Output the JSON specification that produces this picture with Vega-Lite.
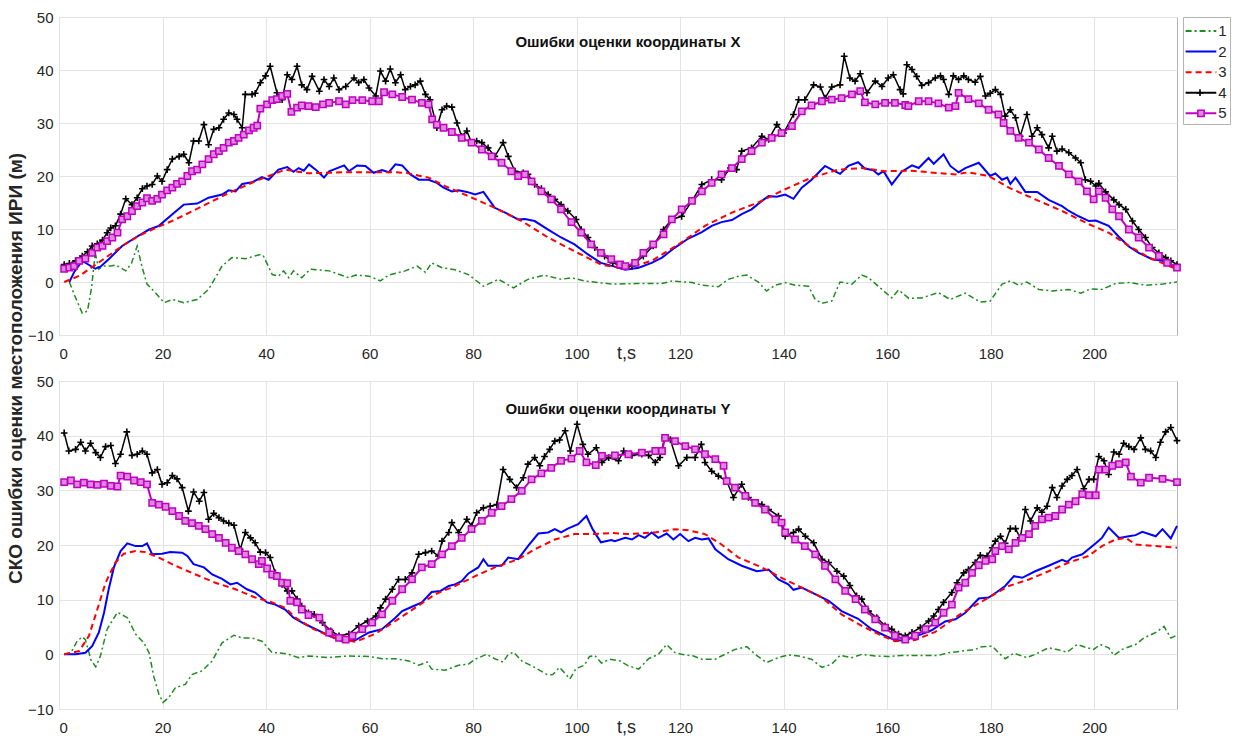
{
"$schema": "https://vega.github.io/schema/vega-lite/v6.json",
"padding": {"left": 5, "top": 9, "right": 0, "bottom": 0},
"background": "white",
"config": {
 "font": "Liberation Sans",
 "view": {"stroke": "#b4b4b4", "strokeWidth": 1},
 "axis": {"labelFont": "Liberation Sans", "labelFontSize": 15, "labelColor": "#262626", "gridColor": "#e3e3e3", "gridWidth": 1, "domain": false, "ticks": false},
 "title": {"font": "Liberation Sans", "fontSize": 15, "fontWeight": "bold", "color": "#111111", "anchor": "middle", "frame": "group", "baseline": "bottom"}
},
"bounds": "flush",
"columns": 2,
"spacing": {"row": 46, "column": 6},
"concat": [
  {"width": 1118, "height": 318,
   "title": {"text": "Ошибки оценки координаты X", "offset": -40, "dx": 10},
   "encoding": {
    "x": {"field": "t", "type": "quantitative", "scale": {"domain": [0, 216], "nice": false, "zero": false},
      "axis": {"values": [0,20,40,60,80,100,120,140,160,180,200], "labelPadding": 11, "title": "t,s", "titleX": 567, "titleY": 23, "titleBaseline": "alphabetic", "titleAlign": "center", "titleFontSize": 18, "titleFontWeight": "normal", "titleColor": "#262626", "titleFont": "Liberation Sans"}},
    "y": {"field": "v", "type": "quantitative", "scale": {"domain": [-10, 50], "nice": false, "zero": false},
      "axis": {"values": [-10,0,10,20,30,40,50], "labelPadding": 6, "title": "СКО ошибки оценки местоположения ИРИ (м)", "titleX": -44, "titleY": 351, "titleAngle": -90, "titleAlign": "center", "titleBaseline": "middle", "titleFontSize": 19, "titleFontWeight": "bold", "titleColor": "#262626", "titleFont": "Liberation Sans"}}
   },
   "layer": [
    {"data": {"name": "x1"}, "mark": {"type": "line", "color": "#1e8c1e", "strokeWidth": 1.5, "strokeDash": [6,3,2,3]}},
    {"data": {"name": "x2"}, "mark": {"type": "line", "color": "#0000ff", "strokeWidth": 2}},
    {"data": {"name": "x3"}, "mark": {"type": "line", "color": "#ff0000", "strokeWidth": 2, "strokeDash": [6,4]}},
    {"data": {"name": "x4"}, "mark": {"type": "line", "color": "#000000", "strokeWidth": 1.5}},
    {"data": {"name": "x4"}, "mark": {"type": "point", "shape": "M-1,0L1,0M0,-1L0,1", "size": 45, "stroke": "#000000", "strokeWidth": 1.6, "filled": false, "opacity": 1}},
    {"data": {"name": "x5"}, "mark": {"type": "line", "color": "#c000c0", "strokeWidth": 2}},
    {"data": {"name": "x5"}, "mark": {"type": "point", "shape": "square", "size": 40, "stroke": "#c000c0", "fill": "#dd88dd", "strokeWidth": 1.5, "filled": true, "opacity": 1}}
   ]
  },
  {"width": 47, "height": 107,
   "view": {"stroke": "#b4b4b4"},
   "data": {"name": "leg"},
   "encoding": {
    "y": {"field": "s", "type": "quantitative", "scale": {"domain": [0.32, 5.52], "reverse": true, "nice": false, "zero": false}, "axis": null}
   },
   "layer": [
    {"mark": {"type": "rule", "strokeWidth": 2},
     "encoding": {
      "x": {"datum": 2.6, "type": "quantitative", "scale": {"domain": [0, 47], "nice": false, "zero": false}, "axis": null},
      "x2": {"datum": 33.3},
      "color": {"field": "s", "type": "ordinal", "scale": {"domain": [1,2,3,4,5], "range": ["#1e8c1e","#0000ff","#ff0000","#000000","#c000c0"]}, "legend": null},
      "strokeDash": {"field": "s", "type": "ordinal", "scale": {"domain": [1,2,3,4,5], "range": [[6,3,2,3],[1,0],[6,4],[1,0],[1,0]]}, "legend": null}
     }},
    {"transform": [{"filter": "datum.s == 4"}], "mark": {"type": "point", "shape": "M-1,0L1,0M0,-1L0,1", "size": 45, "stroke": "#000000", "strokeWidth": 1.6, "filled": false, "opacity": 1},
     "encoding": {"x": {"datum": 17, "type": "quantitative"}}},
    {"transform": [{"filter": "datum.s == 5"}], "mark": {"type": "point", "shape": "square", "size": 40, "stroke": "#c000c0", "fill": "#dd88dd", "strokeWidth": 1.5, "filled": true, "opacity": 1},
     "encoding": {"x": {"datum": 18, "type": "quantitative"}}},
    {"mark": {"type": "text", "align": "left", "baseline": "middle", "fontSize": 15, "color": "#262626"},
     "encoding": {"x": {"datum": 35.3, "type": "quantitative"}, "text": {"field": "s", "type": "nominal"}}}
   ]
  },
 {"width": 1118, "height": 328,
  "title": {"text": "Ошибки оценки координаты Y", "offset": -43, "dx": 0},
  "encoding": {
   "x": {"field": "t", "type": "quantitative", "scale": {"domain": [0, 216], "nice": false, "zero": false},
     "axis": {"values": [0,20,40,60,80,100,120,140,160,180,200], "labelPadding": 11, "title": "t,s", "titleX": 567, "titleY": 23, "titleBaseline": "alphabetic", "titleAlign": "center", "titleFontSize": 18, "titleFontWeight": "normal", "titleColor": "#262626", "titleFont": "Liberation Sans"}},
   "y": {"field": "v", "type": "quantitative", "scale": {"domain": [-10, 50], "nice": false, "zero": false},
     "axis": {"values": [-10,0,10,20,30,40,50], "labelPadding": 6, "title": null}}
  },
  "layer": [
   {"data": {"name": "y1"}, "mark": {"type": "line", "color": "#1e8c1e", "strokeWidth": 1.5, "strokeDash": [6,3,2,3]}},
   {"data": {"name": "y2"}, "mark": {"type": "line", "color": "#0000ff", "strokeWidth": 2}},
   {"data": {"name": "y3"}, "mark": {"type": "line", "color": "#ff0000", "strokeWidth": 2, "strokeDash": [6,4]}},
   {"data": {"name": "y4"}, "mark": {"type": "line", "color": "#000000", "strokeWidth": 1.5}},
   {"data": {"name": "y4"}, "mark": {"type": "point", "shape": "M-1,0L1,0M0,-1L0,1", "size": 45, "stroke": "#000000", "strokeWidth": 1.6, "filled": false, "opacity": 1}},
   {"data": {"name": "y5"}, "mark": {"type": "line", "color": "#c000c0", "strokeWidth": 2}},
   {"data": {"name": "y5"}, "mark": {"type": "point", "shape": "square", "size": 40, "stroke": "#c000c0", "fill": "#dd88dd", "strokeWidth": 1.5, "filled": true, "opacity": 1}}
  ]
 }
],
"datasets": {
 "leg": [{"s":1},{"s":2},{"s":3},{"s":4},{"s":5}],
 "x1": [{"t":2,"v":0},{"t":3,"v":-2.5},{"t":4.5,"v":-5.9},{"t":5.5,"v":-5.5},{"t":6.3,"v":-1},{"t":7,"v":5.5},{"t":7.7,"v":2.4},{"t":8.5,"v":3.0},{"t":10,"v":3.0},{"t":11,"v":3.2},{"t":12.9,"v":2.1},{"t":14,"v":3.5},{"t":15.1,"v":6.8},{"t":16,"v":3},{"t":17,"v":-0.4},{"t":18.6,"v":-2},{"t":20.3,"v":-3.9},{"t":21.9,"v":-3.3},{"t":24.1,"v":-3.9},{"t":26.7,"v":-3.3},{"t":28.9,"v":-1.4},{"t":31.5,"v":3.0},{"t":33.4,"v":4.6},{"t":36,"v":4.4},{"t":38.9,"v":5.2},{"t":39.5,"v":4.9},{"t":41.2,"v":1.4},{"t":42.4,"v":1.1},{"t":43.4,"v":2.1},{"t":44.4,"v":0.8},{"t":45.3,"v":2.1},{"t":46.9,"v":0.8},{"t":48.5,"v":2.4},{"t":52.2,"v":2.1},{"t":56,"v":0.8},{"t":57.3,"v":1.3},{"t":59.9,"v":1.1},{"t":62.1,"v":0.2},{"t":63.7,"v":1.3},{"t":66.9,"v":2.1},{"t":69.2,"v":3.0},{"t":70.8,"v":1.8},{"t":72,"v":3.6},{"t":74,"v":2.7},{"t":76.5,"v":2.3},{"t":79.1,"v":1.4},{"t":82,"v":-0.8},{"t":84.9,"v":0.5},{"t":87.8,"v":-1.1},{"t":90.6,"v":0.5},{"t":93.8,"v":1.3},{"t":97,"v":0.5},{"t":99,"v":0.8},{"t":101.5,"v":0.2},{"t":104.1,"v":-0.1},{"t":107,"v":-0.4},{"t":111.3,"v":-0.3},{"t":116.5,"v":-0.3},{"t":118.4,"v":0.2},{"t":122.3,"v":-0.1},{"t":124.2,"v":-0.6},{"t":127.4,"v":-0.9},{"t":129.3,"v":0.5},{"t":131.3,"v":1.1},{"t":132.9,"v":1.3},{"t":135.1,"v":0},{"t":136.7,"v":-1.7},{"t":138.4,"v":-0.6},{"t":140.3,"v":-0.1},{"t":142.2,"v":-0.6},{"t":144.8,"v":-0.8},{"t":146.1,"v":-3.3},{"t":147.4,"v":-4.0},{"t":149.3,"v":-3.6},{"t":150.9,"v":0},{"t":153.2,"v":-0.4},{"t":155.1,"v":1.3},{"t":156.4,"v":0.8},{"t":159,"v":-1.4},{"t":160.9,"v":-3.0},{"t":162.2,"v":-1.5},{"t":164.2,"v":-3.1},{"t":166.7,"v":-3.0},{"t":169.9,"v":-2.0},{"t":172.2,"v":-3.3},{"t":175.1,"v":-2.1},{"t":178,"v":-3.8},{"t":179.9,"v":-3.6},{"t":182.2,"v":-0.4},{"t":183.8,"v":0.2},{"t":185.4,"v":-0.6},{"t":187,"v":0},{"t":189.3,"v":-1.4},{"t":191.9,"v":-1.7},{"t":195.1,"v":-1.4},{"t":197.4,"v":-2.1},{"t":199.3,"v":-1.3},{"t":201.5,"v":-1.4},{"t":204.1,"v":-0.3},{"t":206.7,"v":-0.1},{"t":209.9,"v":-0.6},{"t":213.2,"v":-0.4},{"t":216,"v":0}],
 "x2": [{"t":2,"v":0},{"t":3,"v":2},{"t":4.5,"v":4.0},{"t":5.5,"v":3.4},{"t":7,"v":2.5},{"t":8,"v":2.9},{"t":9.6,"v":4.3},{"t":12.2,"v":6.8},{"t":14.8,"v":8.4},{"t":17.4,"v":9.9},{"t":19.3,"v":10.6},{"t":21.9,"v":12.8},{"t":24.1,"v":14.6},{"t":26.7,"v":14.8},{"t":28.9,"v":15.9},{"t":31.5,"v":16.5},{"t":32.8,"v":17.3},{"t":34.1,"v":17.1},{"t":35.4,"v":18.5},{"t":37.3,"v":18.8},{"t":39.2,"v":19.8},{"t":40.5,"v":19.3},{"t":42.4,"v":21.2},{"t":44.1,"v":21.7},{"t":45.3,"v":20.8},{"t":46.3,"v":21.5},{"t":47.3,"v":21.0},{"t":48.3,"v":22.2},{"t":49.6,"v":21.2},{"t":51.2,"v":19.7},{"t":52.2,"v":20.9},{"t":55.1,"v":22.0},{"t":56,"v":20.9},{"t":57.6,"v":22.0},{"t":59.2,"v":21.9},{"t":60.8,"v":20.6},{"t":62.4,"v":21.1},{"t":63.7,"v":20.7},{"t":65,"v":22.2},{"t":66.3,"v":22.0},{"t":67.9,"v":20.3},{"t":69.5,"v":19.3},{"t":71.4,"v":19.3},{"t":73,"v":18.7},{"t":74.3,"v":17.8},{"t":75.9,"v":17.1},{"t":77.2,"v":17.3},{"t":78.8,"v":17.0},{"t":80.4,"v":16.5},{"t":82,"v":17.0},{"t":84.2,"v":14.0},{"t":86.2,"v":13.1},{"t":88.7,"v":11.8},{"t":90,"v":11.9},{"t":91.9,"v":11.5},{"t":94.5,"v":9.9},{"t":97,"v":8.4},{"t":99.6,"v":7.1},{"t":102.2,"v":5.2},{"t":104.7,"v":3.6},{"t":107,"v":3.0},{"t":109.4,"v":2.3},{"t":112,"v":2.7},{"t":114.5,"v":3.6},{"t":116.5,"v":4.6},{"t":119,"v":6.5},{"t":121.6,"v":8.2},{"t":124.2,"v":9.4},{"t":126.1,"v":10.6},{"t":128,"v":11.3},{"t":130,"v":11.7},{"t":131.9,"v":12.8},{"t":133.8,"v":13.7},{"t":135.8,"v":15.3},{"t":137.1,"v":16.2},{"t":138.7,"v":16.1},{"t":140.3,"v":16.5},{"t":141.9,"v":15.7},{"t":143.5,"v":17.8},{"t":145.4,"v":19.3},{"t":148,"v":21.9},{"t":149.3,"v":21.2},{"t":150.9,"v":20.4},{"t":152.5,"v":21.9},{"t":154.4,"v":22.6},{"t":155.7,"v":21.4},{"t":157.3,"v":21.1},{"t":158.3,"v":20.3},{"t":159.3,"v":20.9},{"t":160.9,"v":18.4},{"t":162.8,"v":20.8},{"t":164.8,"v":22.0},{"t":166.1,"v":21.5},{"t":168,"v":23.4},{"t":169,"v":22.3},{"t":170.9,"v":24.1},{"t":172.2,"v":21.9},{"t":173.8,"v":20.7},{"t":175.1,"v":21.5},{"t":177.7,"v":22.5},{"t":179.9,"v":20.0},{"t":180.9,"v":20.5},{"t":182.2,"v":19.3},{"t":183.2,"v":19.7},{"t":183.8,"v":18.5},{"t":184.8,"v":19.7},{"t":186.7,"v":17.0},{"t":189,"v":17.0},{"t":191.2,"v":15.5},{"t":193.8,"v":14.3},{"t":195.1,"v":13.4},{"t":197,"v":12.4},{"t":199,"v":11.5},{"t":200.3,"v":11.6},{"t":202.8,"v":10.6},{"t":204.8,"v":8.5},{"t":206.7,"v":6.7},{"t":208.6,"v":5.5},{"t":211.2,"v":4.3},{"t":213.2,"v":4.0},{"t":216,"v":2.7}],
 "x3": [{"t":1,"v":0},{"t":4,"v":1.2},{"t":7,"v":3.2},{"t":9.6,"v":5.0},{"t":12.2,"v":6.8},{"t":15.4,"v":8.7},{"t":18,"v":9.9},{"t":22.5,"v":11.8},{"t":27.7,"v":14.3},{"t":32.8,"v":16.8},{"t":37.9,"v":19.0},{"t":43.7,"v":21.2},{"t":48.2,"v":20.5},{"t":55,"v":20.7},{"t":65,"v":20.7},{"t":67,"v":20.6},{"t":71.4,"v":19.7},{"t":74.6,"v":18.1},{"t":79.1,"v":16.2},{"t":84.2,"v":14.0},{"t":89.4,"v":11.5},{"t":94.5,"v":8.4},{"t":99.6,"v":5.8},{"t":104.7,"v":3.3},{"t":109.4,"v":2.5},{"t":114.5,"v":4.0},{"t":119.7,"v":7.1},{"t":124.8,"v":10.6},{"t":130,"v":13.1},{"t":135.1,"v":15.0},{"t":140.3,"v":17.5},{"t":145.4,"v":19.7},{"t":150.6,"v":21.2},{"t":155.1,"v":21.5},{"t":159.6,"v":20.9},{"t":164.8,"v":21.0},{"t":168,"v":20.7},{"t":173.2,"v":20.3},{"t":175.7,"v":20.7},{"t":179.6,"v":20.0},{"t":183.5,"v":17.8},{"t":188.6,"v":15.6},{"t":193.8,"v":13.4},{"t":199,"v":10.9},{"t":202.8,"v":9.3},{"t":206.7,"v":6.8},{"t":210.6,"v":4.6},{"t":216,"v":2.4}],
 "x4": [{"t":1,"v":3.3},{"t":2,"v":3.5},{"t":3.2,"v":4.0},{"t":4.5,"v":4.9},{"t":5.5,"v":5.7},{"t":6.4,"v":6.8},{"t":7.4,"v":7.2},{"t":8.4,"v":7.9},{"t":9.3,"v":9.3},{"t":10,"v":10.2},{"t":10.9,"v":10.6},{"t":11.9,"v":12.8},{"t":12.9,"v":15.7},{"t":14.1,"v":14.6},{"t":15.1,"v":15.9},{"t":16.1,"v":17.6},{"t":17,"v":18.1},{"t":18,"v":18.4},{"t":19,"v":20.0},{"t":19.9,"v":19.0},{"t":20.9,"v":21.2},{"t":21.9,"v":23.2},{"t":23.2,"v":23.7},{"t":24.1,"v":24.1},{"t":25.1,"v":22.5},{"t":26,"v":26.6},{"t":27,"v":26.6},{"t":28,"v":29.7},{"t":28.9,"v":25.9},{"t":29.9,"v":28.8},{"t":30.9,"v":29.1},{"t":31.8,"v":30.7},{"t":32.8,"v":31.9},{"t":33.8,"v":31.6},{"t":34.4,"v":30.7},{"t":35.4,"v":29.1},{"t":36,"v":35.4},{"t":37.3,"v":35.4},{"t":37.9,"v":35.6},{"t":38.9,"v":37.6},{"t":39.9,"v":38.9},{"t":40.8,"v":40.7},{"t":42.1,"v":35.7},{"t":43.1,"v":34.4},{"t":44.1,"v":39.1},{"t":45,"v":38.2},{"t":46,"v":40.7},{"t":46.9,"v":37.2},{"t":47.9,"v":36.3},{"t":48.9,"v":38.8},{"t":50.3,"v":36.0},{"t":51.2,"v":38.2},{"t":52.2,"v":36.9},{"t":53.1,"v":38.5},{"t":54.1,"v":36.3},{"t":55.4,"v":36.9},{"t":57,"v":38.5},{"t":57.9,"v":37.6},{"t":58.9,"v":38.2},{"t":59.9,"v":36.6},{"t":61.2,"v":35.1},{"t":62.1,"v":39.8},{"t":63.1,"v":37.9},{"t":64,"v":40.2},{"t":65,"v":37.6},{"t":66,"v":39.1},{"t":66.9,"v":36.3},{"t":67.9,"v":36.9},{"t":68.8,"v":37.2},{"t":69.8,"v":37.9},{"t":70.8,"v":35.4},{"t":71.7,"v":34.4},{"t":73,"v":29.1},{"t":74,"v":32.5},{"t":74.9,"v":33.2},{"t":75.9,"v":33.0},{"t":76.9,"v":30.0},{"t":77.8,"v":27.5},{"t":78.8,"v":28.5},{"t":79.7,"v":26.3},{"t":80.7,"v":26.6},{"t":81.7,"v":26.3},{"t":82.9,"v":25.3},{"t":84.2,"v":23.7},{"t":85.8,"v":26.3},{"t":86.8,"v":23.7},{"t":88.1,"v":20.9},{"t":89.7,"v":20.6},{"t":90.6,"v":20.3},{"t":91.9,"v":18.4},{"t":93.2,"v":17.6},{"t":94.5,"v":16.5},{"t":95.8,"v":15.6},{"t":97,"v":14.6},{"t":98.3,"v":13.4},{"t":99.9,"v":11.8},{"t":100.9,"v":9.9},{"t":102.2,"v":8.4},{"t":103.5,"v":6.5},{"t":105.4,"v":4.9},{"t":107,"v":3.6},{"t":108.7,"v":3.0},{"t":110.7,"v":3.0},{"t":112.9,"v":4.9},{"t":114.8,"v":6.8},{"t":116.8,"v":9.9},{"t":118.4,"v":11.8},{"t":120.3,"v":12.4},{"t":122.3,"v":15.3},{"t":124.2,"v":18.4},{"t":126.1,"v":19.3},{"t":128,"v":19.3},{"t":129.7,"v":21.5},{"t":130.9,"v":21.2},{"t":131.9,"v":24.7},{"t":133.8,"v":25.3},{"t":135.8,"v":27.5},{"t":137.1,"v":26.9},{"t":138.7,"v":29.7},{"t":140,"v":28.1},{"t":141.9,"v":31.6},{"t":142.9,"v":34.4},{"t":144.1,"v":34.4},{"t":145.8,"v":37.2},{"t":147.1,"v":36.8},{"t":148,"v":34.7},{"t":149.3,"v":36.8},{"t":150.9,"v":37.2},{"t":151.7,"v":42.6},{"t":152.8,"v":38.5},{"t":153.8,"v":37.9},{"t":154.8,"v":39.3},{"t":156.1,"v":35.7},{"t":157.7,"v":37.9},{"t":159,"v":36.9},{"t":160.2,"v":38.5},{"t":161.2,"v":39.1},{"t":162.5,"v":36.3},{"t":163.1,"v":35.5},{"t":163.8,"v":41.0},{"t":164.8,"v":40.1},{"t":165.7,"v":38.8},{"t":166.7,"v":37.1},{"t":168,"v":37.6},{"t":169.3,"v":38.5},{"t":170.3,"v":38.9},{"t":170.9,"v":38.2},{"t":171.9,"v":35.4},{"t":172.8,"v":38.9},{"t":173.8,"v":38.2},{"t":174.8,"v":38.9},{"t":175.7,"v":38.2},{"t":177,"v":37.7},{"t":178,"v":38.8},{"t":179,"v":35.1},{"t":179.9,"v":35.6},{"t":180.9,"v":36.3},{"t":181.9,"v":35.4},{"t":182.8,"v":31.3},{"t":183.8,"v":32.5},{"t":184.8,"v":31.0},{"t":185.7,"v":27.5},{"t":187,"v":31.6},{"t":188,"v":27.5},{"t":189,"v":29.1},{"t":189.9,"v":27.8},{"t":191.2,"v":25.3},{"t":191.9,"v":27.5},{"t":192.8,"v":24.7},{"t":193.8,"v":25.1},{"t":195.1,"v":24.4},{"t":196.4,"v":23.4},{"t":197.4,"v":22.5},{"t":198.3,"v":19.3},{"t":199.3,"v":19.0},{"t":200.3,"v":18.1},{"t":200.9,"v":18.6},{"t":202.2,"v":17.0},{"t":203.8,"v":15.5},{"t":204.8,"v":14.6},{"t":206.1,"v":13.7},{"t":207.4,"v":11.5},{"t":208.6,"v":9.9},{"t":209.9,"v":8.4},{"t":211.2,"v":6.5},{"t":212.5,"v":5.5},{"t":213.8,"v":4.6},{"t":214.8,"v":4.0},{"t":216,"v":3.3}],
 "x5": [{"t":1,"v":2.5},{"t":2,"v":2.7},{"t":2.9,"v":3.0},{"t":3.9,"v":4.0},{"t":5.1,"v":4.4},{"t":6.4,"v":5.5},{"t":7.4,"v":6.5},{"t":8.4,"v":6.8},{"t":9.3,"v":7.7},{"t":10.3,"v":8.4},{"t":11.3,"v":9.3},{"t":12.2,"v":11.8},{"t":13.2,"v":12.4},{"t":14.1,"v":13.4},{"t":15.1,"v":14.3},{"t":16.1,"v":15.0},{"t":17,"v":15.8},{"t":18,"v":15.3},{"t":19,"v":15.7},{"t":19.9,"v":16.5},{"t":20.9,"v":17.3},{"t":21.9,"v":17.8},{"t":22.8,"v":18.5},{"t":23.8,"v":19.0},{"t":24.8,"v":20.0},{"t":25.7,"v":20.9},{"t":26.7,"v":21.2},{"t":27.7,"v":22.2},{"t":28.9,"v":23.2},{"t":29.9,"v":24.1},{"t":30.9,"v":24.7},{"t":31.8,"v":25.3},{"t":32.8,"v":26.3},{"t":33.8,"v":26.6},{"t":34.7,"v":27.2},{"t":35.7,"v":27.8},{"t":36.7,"v":28.6},{"t":37.6,"v":29.1},{"t":38.3,"v":29.5},{"t":38.9,"v":32.7},{"t":40.2,"v":33.5},{"t":41.2,"v":34.3},{"t":42.1,"v":34.5},{"t":43.1,"v":35.1},{"t":44.1,"v":35.5},{"t":44.9,"v":32.1},{"t":46,"v":32.9},{"t":46.9,"v":33.3},{"t":48.2,"v":33.2},{"t":49.6,"v":33.0},{"t":51,"v":33.5},{"t":52.2,"v":33.8},{"t":54.1,"v":34.1},{"t":55.4,"v":33.5},{"t":56.7,"v":34.3},{"t":58.6,"v":34.3},{"t":60.5,"v":34.1},{"t":61.8,"v":34.1},{"t":62.8,"v":35.8},{"t":64.4,"v":35.4},{"t":66.3,"v":34.9},{"t":68.2,"v":34.4},{"t":70.1,"v":33.8},{"t":71.4,"v":33.5},{"t":72.1,"v":30.7},{"t":73,"v":29.7},{"t":74.3,"v":29.1},{"t":75.9,"v":28.3},{"t":77.8,"v":27.2},{"t":79.7,"v":26.3},{"t":81.7,"v":25.0},{"t":83.6,"v":23.7},{"t":85.5,"v":22.5},{"t":87.4,"v":20.9},{"t":88.7,"v":20.0},{"t":90,"v":20.3},{"t":91.3,"v":19.0},{"t":93.2,"v":17.1},{"t":95.1,"v":15.6},{"t":97,"v":13.7},{"t":99,"v":11.3},{"t":100.9,"v":9.3},{"t":102.8,"v":7.1},{"t":104.7,"v":5.5},{"t":106.7,"v":4.3},{"t":108.4,"v":3.3},{"t":109.4,"v":3.0},{"t":111.3,"v":3.6},{"t":112.9,"v":5.5},{"t":114.8,"v":7.1},{"t":116.8,"v":9.0},{"t":118.4,"v":11.8},{"t":120.3,"v":13.7},{"t":122.3,"v":15.3},{"t":124.2,"v":17.1},{"t":126.1,"v":18.7},{"t":128,"v":20.3},{"t":130,"v":21.5},{"t":131.9,"v":23.2},{"t":133.8,"v":24.7},{"t":135.8,"v":26.3},{"t":137.7,"v":27.2},{"t":139.6,"v":28.1},{"t":141.6,"v":29.4},{"t":143.5,"v":32.2},{"t":145.4,"v":33.3},{"t":147.4,"v":34.1},{"t":149.3,"v":34.4},{"t":151.2,"v":34.7},{"t":153.2,"v":35.4},{"t":154.8,"v":36.0},{"t":155.7,"v":33.9},{"t":157.7,"v":33.5},{"t":159.6,"v":33.8},{"t":161.5,"v":33.8},{"t":163.5,"v":33.4},{"t":164.1,"v":33.2},{"t":166.1,"v":34.1},{"t":168,"v":34.1},{"t":169.9,"v":33.7},{"t":171.9,"v":32.9},{"t":173.2,"v":33.2},{"t":173.8,"v":35.7},{"t":175.7,"v":34.5},{"t":177.7,"v":33.7},{"t":179.6,"v":32.5},{"t":181.5,"v":31.6},{"t":182.5,"v":30.0},{"t":183.8,"v":28.5},{"t":185.4,"v":27.2},{"t":187.4,"v":26.3},{"t":189.3,"v":25.0},{"t":191.2,"v":23.4},{"t":193.2,"v":21.9},{"t":195.1,"v":20.3},{"t":197,"v":19.0},{"t":198.6,"v":17.1},{"t":199.9,"v":15.6},{"t":200.9,"v":17.1},{"t":202.2,"v":15.9},{"t":203.5,"v":13.7},{"t":204.8,"v":12.4},{"t":206.7,"v":9.9},{"t":208.6,"v":8.4},{"t":210.6,"v":6.5},{"t":212.5,"v":4.9},{"t":214.1,"v":3.6},{"t":216,"v":2.7}],
 "y1": [{"t":1,"v":0},{"t":2.3,"v":0.3},{"t":3.5,"v":2.4},{"t":4.5,"v":3.2},{"t":5.1,"v":2.7},{"t":5.8,"v":0.3},{"t":6.1,"v":-0.9},{"t":7.1,"v":-2.3},{"t":8,"v":-0.3},{"t":9.3,"v":4.6},{"t":11.3,"v":7.7},{"t":13.2,"v":6.7},{"t":14.8,"v":3.7},{"t":16.4,"v":2.1},{"t":17.4,"v":0.3},{"t":18.3,"v":-4.0},{"t":19.3,"v":-7.3},{"t":20.1,"v":-8.8},{"t":21.2,"v":-7.9},{"t":22.5,"v":-6.1},{"t":24.4,"v":-5.5},{"t":25.7,"v":-3.7},{"t":27.7,"v":-3.0},{"t":29.6,"v":-1.2},{"t":31.5,"v":2.1},{"t":33.8,"v":3.5},{"t":35.4,"v":3.0},{"t":37.3,"v":3.0},{"t":39.2,"v":2.4},{"t":41.2,"v":0.3},{"t":42.4,"v":0.3},{"t":44.4,"v":0},{"t":46.3,"v":-0.6},{"t":48.2,"v":-0.3},{"t":52,"v":-0.6},{"t":56,"v":-0.3},{"t":59.9,"v":-0.4},{"t":62.4,"v":-0.8},{"t":65,"v":-0.8},{"t":67.6,"v":-1.2},{"t":69.5,"v":-2.0},{"t":71.1,"v":-1.4},{"t":72,"v":-2.7},{"t":74.6,"v":-2.9},{"t":77.2,"v":-2.0},{"t":79.1,"v":-1.8},{"t":80.4,"v":-0.9},{"t":82.6,"v":0},{"t":84.2,"v":-0.8},{"t":85.8,"v":-1.4},{"t":86.8,"v":0},{"t":87.8,"v":0.4},{"t":89.4,"v":-1.2},{"t":91.9,"v":-2.4},{"t":94.5,"v":-3.8},{"t":95.4,"v":-3.7},{"t":96.7,"v":-2.4},{"t":97.7,"v":-3.4},{"t":98.7,"v":-4.5},{"t":99.9,"v":-2.6},{"t":101.5,"v":-2.0},{"t":102.5,"v":-0.4},{"t":103.5,"v":-0.2},{"t":104.8,"v":-1.6},{"t":106.4,"v":-0.9},{"t":108.4,"v":-1.2},{"t":110,"v":-2.1},{"t":112,"v":-2.7},{"t":113.9,"v":-0.8},{"t":115.8,"v":0},{"t":117.4,"v":1.8},{"t":119,"v":0.3},{"t":120.3,"v":0},{"t":122.6,"v":-0.3},{"t":124.2,"v":-0.9},{"t":126.8,"v":-0.9},{"t":128,"v":-0.3},{"t":130.6,"v":0.9},{"t":132.9,"v":1.4},{"t":134.5,"v":0},{"t":136.7,"v":-1.5},{"t":139,"v":-0.6},{"t":140.9,"v":-0.1},{"t":142.9,"v":-0.3},{"t":145.4,"v":-0.9},{"t":147.4,"v":-2.4},{"t":149.3,"v":-1.8},{"t":150.9,"v":-0.2},{"t":153.2,"v":-0.6},{"t":155.1,"v":0},{"t":157.7,"v":-0.3},{"t":160.2,"v":-0.4},{"t":162.8,"v":-0.2},{"t":165.4,"v":-0.2},{"t":169.9,"v":-0.2},{"t":171.9,"v":0.3},{"t":174.5,"v":0.6},{"t":177,"v":0.9},{"t":178.3,"v":1.4},{"t":180.3,"v":1.5},{"t":181.5,"v":0.3},{"t":182.8,"v":-0.8},{"t":184.5,"v":0.2},{"t":187,"v":-0.6},{"t":188.6,"v":0},{"t":191.2,"v":1.2},{"t":193.2,"v":0.8},{"t":194.8,"v":0.4},{"t":196.7,"v":1.8},{"t":198.6,"v":1.2},{"t":199.9,"v":0.9},{"t":201.2,"v":1.8},{"t":202.8,"v":1.2},{"t":203.8,"v":-0.2},{"t":205.4,"v":0.9},{"t":208,"v":1.8},{"t":209.6,"v":3.0},{"t":211.9,"v":4.0},{"t":213.5,"v":5.1},{"t":214.8,"v":3.0},{"t":216,"v":3.5}],
 "y2": [{"t":1,"v":0},{"t":3.2,"v":0},{"t":5.1,"v":0.3},{"t":6.4,"v":1.5},{"t":7.7,"v":4.0},{"t":8.7,"v":7.6},{"t":9.6,"v":11.9},{"t":10.6,"v":15.9},{"t":11.9,"v":18.9},{"t":13.2,"v":20.3},{"t":14.8,"v":19.8},{"t":16.1,"v":19.8},{"t":17,"v":20.3},{"t":18,"v":18.3},{"t":19.9,"v":18.4},{"t":21.5,"v":18.7},{"t":23.8,"v":18.6},{"t":24.8,"v":18.0},{"t":26,"v":16.5},{"t":28,"v":15.9},{"t":29.6,"v":14.6},{"t":31.5,"v":13.8},{"t":33.1,"v":12.8},{"t":34.4,"v":13.1},{"t":36.3,"v":11.9},{"t":37.9,"v":11.3},{"t":40.2,"v":9.5},{"t":41.8,"v":9.1},{"t":43.7,"v":8.2},{"t":45.3,"v":6.7},{"t":47.6,"v":5.5},{"t":49.2,"v":4.8},{"t":52.2,"v":3.4},{"t":54.7,"v":2.4},{"t":57.3,"v":2.6},{"t":59.9,"v":4.0},{"t":62.4,"v":4.6},{"t":65,"v":6.7},{"t":66.3,"v":7.9},{"t":68.2,"v":8.7},{"t":70.1,"v":9.5},{"t":72,"v":11.4},{"t":73.7,"v":11.6},{"t":75.3,"v":12.5},{"t":76.5,"v":12.8},{"t":77.8,"v":13.4},{"t":79.1,"v":14.8},{"t":81,"v":15.9},{"t":82,"v":17.4},{"t":82.9,"v":16.2},{"t":85.5,"v":16.2},{"t":86.8,"v":17.7},{"t":88.7,"v":17.4},{"t":90.6,"v":19.8},{"t":92.6,"v":22.1},{"t":94.5,"v":22.3},{"t":95.8,"v":22.9},{"t":97,"v":22.3},{"t":98.3,"v":23.0},{"t":100.3,"v":23.8},{"t":101.9,"v":25.3},{"t":103.1,"v":22.9},{"t":104.7,"v":20.5},{"t":106.7,"v":20.9},{"t":107.4,"v":20.7},{"t":109.4,"v":21.3},{"t":110.7,"v":21.0},{"t":112,"v":21.8},{"t":113.2,"v":21.3},{"t":114.5,"v":22.3},{"t":115.8,"v":21.3},{"t":117.4,"v":22.1},{"t":118.7,"v":21.0},{"t":120,"v":22.0},{"t":121.6,"v":20.7},{"t":122.9,"v":21.3},{"t":124.2,"v":21.0},{"t":125.5,"v":21.2},{"t":126.8,"v":19.2},{"t":129.3,"v":17.4},{"t":131.9,"v":16.2},{"t":134.8,"v":15.2},{"t":137.1,"v":15.5},{"t":139,"v":13.7},{"t":140.9,"v":12.8},{"t":141.9,"v":11.8},{"t":143.5,"v":12.2},{"t":146.1,"v":11.0},{"t":148.7,"v":9.8},{"t":151.2,"v":7.9},{"t":154.4,"v":6.5},{"t":157,"v":4.6},{"t":159.6,"v":3.4},{"t":161.5,"v":2.6},{"t":163.5,"v":2.5},{"t":165.1,"v":3.2},{"t":166.7,"v":3.7},{"t":168.6,"v":4.4},{"t":171.2,"v":6.0},{"t":173.2,"v":6.4},{"t":175.1,"v":7.6},{"t":177.7,"v":10.2},{"t":179.6,"v":10.4},{"t":181.2,"v":11.4},{"t":182.8,"v":12.5},{"t":184.5,"v":14.3},{"t":186.1,"v":14.0},{"t":188.6,"v":15.2},{"t":191.2,"v":16.2},{"t":193.8,"v":17.3},{"t":194.8,"v":16.9},{"t":195.7,"v":17.7},{"t":197.7,"v":18.3},{"t":200.3,"v":20.3},{"t":201.5,"v":21.3},{"t":202.8,"v":23.2},{"t":204.8,"v":21.3},{"t":206.7,"v":21.6},{"t":208,"v":21.8},{"t":209.3,"v":22.4},{"t":211.9,"v":21.6},{"t":213.2,"v":22.9},{"t":214.8,"v":21.2},{"t":216,"v":23.5}],
 "y3": [{"t":1,"v":0},{"t":3.9,"v":0.6},{"t":5.8,"v":3.4},{"t":7.4,"v":8.2},{"t":9,"v":13.1},{"t":10.9,"v":16.8},{"t":12.5,"v":18.4},{"t":14.8,"v":18.9},{"t":16.7,"v":18.7},{"t":19.3,"v":17.7},{"t":22.5,"v":16.2},{"t":26.4,"v":14.6},{"t":30.2,"v":13.1},{"t":34.1,"v":11.9},{"t":37.9,"v":10.4},{"t":41.2,"v":9.5},{"t":43.7,"v":8.5},{"t":45.7,"v":6.7},{"t":49.2,"v":4.6},{"t":53.5,"v":2.9},{"t":57.3,"v":2.3},{"t":61.2,"v":3.8},{"t":65,"v":6.1},{"t":68.8,"v":8.5},{"t":72.7,"v":11.0},{"t":76.5,"v":12.5},{"t":80.4,"v":14.3},{"t":84.2,"v":15.9},{"t":88.7,"v":17.4},{"t":91.9,"v":19.2},{"t":95.8,"v":21.0},{"t":99.6,"v":22.0},{"t":103.5,"v":22.0},{"t":107,"v":22.2},{"t":110,"v":22.0},{"t":115.2,"v":22.3},{"t":119,"v":22.9},{"t":121.6,"v":22.7},{"t":124.8,"v":22.0},{"t":128,"v":20.1},{"t":131.3,"v":17.7},{"t":135.8,"v":15.9},{"t":139.6,"v":14.0},{"t":143.5,"v":12.2},{"t":147.4,"v":10.4},{"t":151.2,"v":7.3},{"t":155.1,"v":5.2},{"t":159,"v":3.4},{"t":161.5,"v":2.4},{"t":165.4,"v":2.6},{"t":169.3,"v":4.1},{"t":174.5,"v":7.6},{"t":179.6,"v":10.4},{"t":183.5,"v":12.5},{"t":187.4,"v":13.7},{"t":191.2,"v":15.2},{"t":195.1,"v":16.8},{"t":198.9,"v":18.0},{"t":201.5,"v":19.8},{"t":204.1,"v":21.0},{"t":206.1,"v":21.3},{"t":208,"v":20.1},{"t":211.9,"v":19.8},{"t":216,"v":19.5}],
 "y4": [{"t":1,"v":40.5},{"t":1.9,"v":37.2},{"t":3.2,"v":37.5},{"t":4.2,"v":38.8},{"t":5.1,"v":37.2},{"t":6.1,"v":38.6},{"t":7.1,"v":36.9},{"t":8,"v":36.0},{"t":9,"v":38.0},{"t":10,"v":38.2},{"t":10.9,"v":34.9},{"t":11.9,"v":36.6},{"t":13.1,"v":40.7},{"t":14.1,"v":36.4},{"t":15.1,"v":36.6},{"t":16.1,"v":37.2},{"t":17,"v":36.6},{"t":18,"v":33.2},{"t":19,"v":33.8},{"t":19.9,"v":31.1},{"t":20.9,"v":31.4},{"t":21.9,"v":32.7},{"t":22.8,"v":32.1},{"t":23.8,"v":30.5},{"t":25,"v":26.2},{"t":26,"v":29.7},{"t":27.1,"v":28.0},{"t":28,"v":29.6},{"t":28.9,"v":24.7},{"t":29.9,"v":25.8},{"t":30.9,"v":25.0},{"t":31.8,"v":24.4},{"t":32.8,"v":24.0},{"t":33.8,"v":23.6},{"t":35,"v":19.2},{"t":36,"v":22.3},{"t":37,"v":21.3},{"t":37.9,"v":20.4},{"t":38.9,"v":18.7},{"t":39.9,"v":18.6},{"t":40.8,"v":17.7},{"t":41.8,"v":14.9},{"t":43.1,"v":12.8},{"t":44.1,"v":11.6},{"t":45,"v":11.6},{"t":46,"v":10.1},{"t":46.9,"v":8.8},{"t":48.2,"v":7.6},{"t":49.3,"v":7.3},{"t":50.9,"v":5.8},{"t":52.5,"v":4.3},{"t":54.1,"v":3.4},{"t":56,"v":3.7},{"t":57.9,"v":5.2},{"t":59.6,"v":6.1},{"t":61.2,"v":7.0},{"t":62.1,"v":8.5},{"t":63.1,"v":10.1},{"t":64.4,"v":11.9},{"t":65.6,"v":13.7},{"t":66.9,"v":13.7},{"t":68.2,"v":14.9},{"t":69.5,"v":18.3},{"t":70.8,"v":18.6},{"t":72,"v":18.9},{"t":73.3,"v":18.0},{"t":74,"v":20.7},{"t":75.3,"v":22.3},{"t":75.9,"v":24.1},{"t":77.2,"v":22.3},{"t":78.8,"v":24.7},{"t":79.7,"v":23.5},{"t":80.7,"v":25.9},{"t":82,"v":26.8},{"t":83.3,"v":27.1},{"t":84.6,"v":27.4},{"t":85.8,"v":33.8},{"t":87.1,"v":32.0},{"t":88.4,"v":30.5},{"t":89.7,"v":32.3},{"t":90.6,"v":34.8},{"t":91.9,"v":36.0},{"t":92.9,"v":34.5},{"t":93.8,"v":36.2},{"t":94.8,"v":37.5},{"t":95.8,"v":39.0},{"t":96.7,"v":39.2},{"t":97.8,"v":40.9},{"t":98.8,"v":37.2},{"t":100.1,"v":42.1},{"t":101.2,"v":38.4},{"t":102.2,"v":36.6},{"t":103.8,"v":37.8},{"t":104.9,"v":35.1},{"t":106.2,"v":36.0},{"t":108.1,"v":35.4},{"t":109.1,"v":37.2},{"t":110.7,"v":36.4},{"t":112.6,"v":36.6},{"t":113.9,"v":36.4},{"t":115.2,"v":35.1},{"t":116.1,"v":36.0},{"t":117,"v":39.6},{"t":118.1,"v":39.3},{"t":119.7,"v":34.5},{"t":121.3,"v":36.0},{"t":122.9,"v":36.0},{"t":124.1,"v":38.4},{"t":124.8,"v":35.1},{"t":126.1,"v":33.5},{"t":127.4,"v":32.6},{"t":129,"v":31.7},{"t":130.3,"v":28.7},{"t":131.9,"v":31.1},{"t":133.2,"v":28.7},{"t":134.5,"v":27.7},{"t":135.8,"v":27.4},{"t":137.1,"v":26.5},{"t":139,"v":25.3},{"t":140.3,"v":21.6},{"t":141.9,"v":22.3},{"t":142.9,"v":22.9},{"t":144.2,"v":21.6},{"t":145.8,"v":20.4},{"t":147.4,"v":17.4},{"t":148.7,"v":16.8},{"t":150.3,"v":15.2},{"t":151.6,"v":14.3},{"t":152.8,"v":12.6},{"t":154.1,"v":10.7},{"t":155.1,"v":10.1},{"t":156.4,"v":7.9},{"t":158,"v":6.7},{"t":159.6,"v":5.2},{"t":160.9,"v":4.6},{"t":162.2,"v":3.7},{"t":163.5,"v":3.4},{"t":164.8,"v":4.0},{"t":166.4,"v":4.9},{"t":168,"v":6.1},{"t":169,"v":7.0},{"t":169.9,"v":8.2},{"t":170.9,"v":9.5},{"t":172.5,"v":11.3},{"t":173.5,"v":13.1},{"t":174.8,"v":14.9},{"t":175.7,"v":15.5},{"t":177,"v":16.8},{"t":178,"v":18.1},{"t":179.3,"v":18.0},{"t":180.3,"v":19.5},{"t":180.9,"v":20.7},{"t":181.9,"v":21.6},{"t":182.8,"v":20.3},{"t":183.8,"v":23.0},{"t":184.8,"v":23.0},{"t":185.7,"v":21.3},{"t":186.7,"v":26.5},{"t":187.7,"v":24.4},{"t":189,"v":26.8},{"t":189.9,"v":26.0},{"t":190.9,"v":27.1},{"t":191.9,"v":30.5},{"t":192.8,"v":28.7},{"t":193.8,"v":30.8},{"t":194.8,"v":32.0},{"t":195.7,"v":32.7},{"t":196.7,"v":33.8},{"t":198,"v":30.3},{"t":199,"v":32.0},{"t":199.9,"v":32.0},{"t":200.9,"v":36.2},{"t":201.9,"v":35.4},{"t":202.8,"v":32.9},{"t":203.8,"v":37.0},{"t":204.8,"v":36.6},{"t":205.7,"v":38.6},{"t":206.7,"v":38.0},{"t":207.7,"v":37.5},{"t":209,"v":39.6},{"t":209.9,"v":37.5},{"t":210.9,"v":37.2},{"t":211.9,"v":36.0},{"t":212.8,"v":38.8},{"t":213.8,"v":40.7},{"t":214.8,"v":41.5},{"t":216,"v":39.1}],
 "y5": [{"t":1,"v":31.5},{"t":2.3,"v":31.8},{"t":3.5,"v":31.1},{"t":4.8,"v":31.4},{"t":6.1,"v":31.1},{"t":7.4,"v":31.0},{"t":8.7,"v":31.2},{"t":10,"v":30.8},{"t":11.3,"v":30.7},{"t":11.9,"v":32.7},{"t":13.2,"v":32.5},{"t":14.5,"v":31.8},{"t":15.8,"v":31.5},{"t":17,"v":31.1},{"t":18,"v":27.7},{"t":19.3,"v":27.4},{"t":20.6,"v":27.0},{"t":21.9,"v":26.2},{"t":23.2,"v":25.3},{"t":24.4,"v":24.4},{"t":25.7,"v":24.0},{"t":27,"v":23.5},{"t":28.3,"v":22.9},{"t":29.6,"v":22.0},{"t":30.9,"v":21.3},{"t":32.2,"v":20.4},{"t":33.4,"v":19.5},{"t":34.7,"v":18.9},{"t":36,"v":18.3},{"t":37.3,"v":17.4},{"t":38.6,"v":16.5},{"t":39.2,"v":17.1},{"t":40.2,"v":15.7},{"t":41.2,"v":14.6},{"t":42.1,"v":14.3},{"t":43.1,"v":13.1},{"t":44.1,"v":13.0},{"t":44.7,"v":9.8},{"t":46,"v":9.5},{"t":46.9,"v":8.2},{"t":48.2,"v":7.2},{"t":50.3,"v":6.7},{"t":52.2,"v":4.0},{"t":54.1,"v":3.0},{"t":55.4,"v":2.7},{"t":56.7,"v":3.4},{"t":58.6,"v":4.6},{"t":60.5,"v":5.8},{"t":62.4,"v":7.3},{"t":64.4,"v":9.8},{"t":66.3,"v":11.9},{"t":68.2,"v":13.7},{"t":70.1,"v":15.9},{"t":72,"v":16.5},{"t":74,"v":18.3},{"t":75.9,"v":19.8},{"t":77.8,"v":21.3},{"t":79.7,"v":22.9},{"t":81.7,"v":24.4},{"t":83.6,"v":25.9},{"t":85.5,"v":27.1},{"t":87.4,"v":28.4},{"t":89.4,"v":29.9},{"t":91.3,"v":32.0},{"t":93.2,"v":33.1},{"t":95.1,"v":34.1},{"t":97,"v":35.4},{"t":99,"v":35.8},{"t":100.6,"v":37.2},{"t":101.9,"v":35.1},{"t":103.7,"v":34.6},{"t":104.9,"v":36.3},{"t":107.4,"v":36.4},{"t":110,"v":36.6},{"t":112.6,"v":36.9},{"t":115.2,"v":37.2},{"t":116.5,"v":37.2},{"t":117.1,"v":39.6},{"t":119,"v":39.0},{"t":121,"v":38.1},{"t":122.9,"v":37.5},{"t":124.8,"v":36.6},{"t":126.8,"v":35.7},{"t":128.4,"v":34.5},{"t":129,"v":31.7},{"t":130.6,"v":30.5},{"t":132.6,"v":29.0},{"t":134.5,"v":27.7},{"t":136.4,"v":26.5},{"t":138.4,"v":24.7},{"t":139.6,"v":24.1},{"t":140.3,"v":22.3},{"t":142.2,"v":21.0},{"t":144.1,"v":19.8},{"t":146.1,"v":18.3},{"t":148,"v":16.2},{"t":150,"v":13.7},{"t":151.9,"v":11.6},{"t":153.9,"v":10.1},{"t":155.7,"v":8.2},{"t":157.7,"v":6.4},{"t":159.6,"v":4.9},{"t":161.5,"v":3.4},{"t":163.5,"v":2.7},{"t":165.4,"v":3.4},{"t":167.4,"v":4.6},{"t":169.3,"v":5.8},{"t":170.9,"v":7.6},{"t":172.5,"v":9.1},{"t":173.8,"v":12.2},{"t":175.1,"v":13.1},{"t":176.4,"v":14.9},{"t":177.7,"v":16.3},{"t":179,"v":17.1},{"t":180.3,"v":17.4},{"t":180.9,"v":18.9},{"t":182.2,"v":19.8},{"t":183.5,"v":19.2},{"t":184.8,"v":20.4},{"t":186.1,"v":21.3},{"t":187.4,"v":22.0},{"t":188.6,"v":23.5},{"t":189.9,"v":24.7},{"t":191.2,"v":25.0},{"t":192.5,"v":25.3},{"t":193.8,"v":26.5},{"t":195.1,"v":27.4},{"t":196.4,"v":28.0},{"t":197.7,"v":29.3},{"t":199,"v":29.1},{"t":200.3,"v":29.1},{"t":200.9,"v":33.8},{"t":202.2,"v":33.8},{"t":203.5,"v":34.5},{"t":204.8,"v":34.8},{"t":206.1,"v":35.1},{"t":207.1,"v":32.5},{"t":209,"v":31.4},{"t":210.6,"v":32.3},{"t":213.2,"v":32.1},{"t":216,"v":31.5}]
}
}
